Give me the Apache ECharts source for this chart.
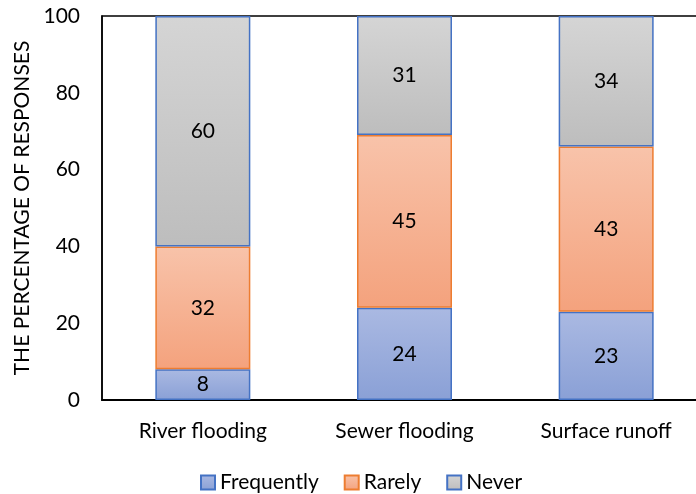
<!DOCTYPE html>
<html>
<head>
<meta charset="utf-8">
<script src="https://cdn.jsdelivr.net/npm/echarts@6/dist/echarts.min.js"></script>
<style>
  html, body { margin: 0; padding: 0; background: #fff; }
  #chart { width: 696px; height: 494px; }
</style>
</head>
<body>
<div id="chart"></div>
<script>
// Flood types and the share of responses for each frequency answer
const categories = ['River flooding', 'Sewer flooding', 'Surface runoff'];
const frequently = [8, 24, 23];
const rarely = [32, 45, 43];
const never = [60, 31, 34];
const yTicks = [0, 20, 40, 60, 80, 100];

const FONT = 'Lato, "Open Sans", sans-serif';
const FS = 21;

function grad(top, bottom) {
  return new echarts.graphic.LinearGradient(0, 0, 0, 1, [
    { offset: 0, color: top },
    { offset: 1, color: bottom }
  ]);
}

const label = {
  show: true,
  position: 'inside',
  color: '#000',
  fontFamily: FONT,
  fontSize: FS
};

function series(name, data, top, bottom, border) {
  return {
    name: name,
    type: 'bar',
    stack: 'total',
    barWidth: 95,
    data: data,
    label: label,
    itemStyle: { color: grad(top, bottom), borderColor: border, borderWidth: 1.5 }
  };
}

const chart = echarts.init(document.getElementById('chart'), null, { renderer: 'canvas' });
chart.setOption({
  animation: false,
  textStyle: { fontFamily: FONT },
  grid: {
    left: 102, top: 16, width: 605, height: 384,
    outerBoundsMode: 'none',
    containLabel: false,
    show: true, borderColor: '#000', borderWidth: 1.5, backgroundColor: 'transparent'
  },
  legend: {
    top: 467,
    left: 195,
    itemWidth: 14,
    itemHeight: 14,
    itemGap: 25,
    icon: 'rect',
    textStyle: { fontFamily: FONT, fontSize: FS, color: '#000' },
    data: ['Frequently', 'Rarely', 'Never']
  },
  xAxis: {
    type: 'category',
    data: categories,
    axisLine: { show: true, lineStyle: { color: '#000', width: 2 } },
    axisTick: { show: false },
    axisLabel: { color: '#000', fontFamily: FONT, fontSize: FS, margin: 21 }
  },
  yAxis: {
    type: 'value',
    min: yTicks[0],
    max: yTicks[yTicks.length - 1],
    interval: yTicks[1] - yTicks[0],
    name: 'THE PERCENTAGE OF RESPONSES',
    nameLocation: 'middle',
    nameGap: 63,
    nameRotate: 90,
    nameTextStyle: { color: '#000', fontFamily: FONT, fontSize: 21 },
    axisLine: { show: true, lineStyle: { color: '#000', width: 1.5 } },
    axisTick: { show: false },
    splitLine: { show: false },
    axisLabel: { color: '#000', fontFamily: FONT, fontSize: FS, margin: 22 }
  },
  series: [
    series('Frequently', frequently, '#aab9e2', '#8aa0d6', '#4472c4'),
    series('Rarely', rarely, '#f8c3aa', '#f4a27d', '#ed7d31'),
    series('Never', never, '#d5d5d5', '#bdbdbd', '#4472c4')
  ]
});
</script>
</body>
</html>
